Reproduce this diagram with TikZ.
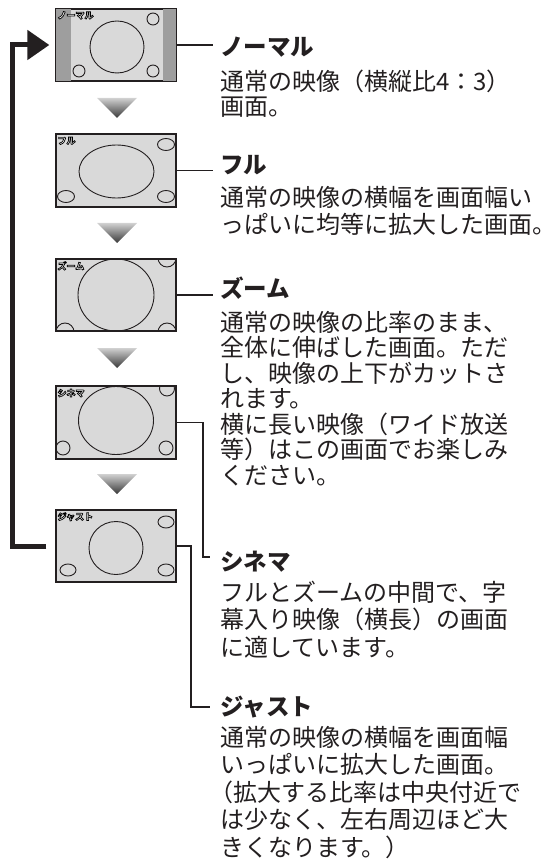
\documentclass[tikz,border=0pt]{standalone}
\usepackage{fontspec}
\newfontfamily\jp{Noto Sans CJK JP}
\usetikzlibrary{arrows.meta,calc}
\definecolor{scr}{HTML}{D9D9D9}
\definecolor{bar}{HTML}{9E9E9E}
\definecolor{ink}{HTML}{231F20}
\newcommand{\outl}[1]{\textcolor{white}{\special{pdf:literal direct 0 G 0.7 w 2 Tr}#1\special{pdf:literal direct 0 Tr}}}
\begin{document}
\begin{tikzpicture}[x=1pt,y=-1pt,
  screen/.style={draw=ink, line width=1.3pt, fill=scr, minimum width=120pt, minimum height=72pt, inner sep=0},
  ttl/.style={anchor=west, inner xsep=7pt, inner ysep=0, font=\jp\bfseries\fontsize{23.5}{26}\selectfont, text=ink},
  body/.style={anchor=base west, inner sep=0, font=\jp\fontsize{24}{26}\selectfont, text=ink},
  conn/.style={draw=ink, line width=1.8pt},
  fb/.style={draw=ink, line width=5pt},
  tri/.style={top color=black!18, bottom color=black!78, draw=none},
  thin/.style={draw=ink, line width=0.9pt},
  tag/.style={anchor=north west, inner sep=0, font=\jp\bfseries\fontsize{9}{9}\selectfont},
  frame/.style={draw=ink, line width=1.3pt}
]
\useasboundingbox (0,0) rectangle (559,866);

% screens
\node[screen] (s1) at (116,45) {};
\node[screen] (s2) at (116,170.5) {};
\node[screen] (s3) at (116,295) {};
\node[screen] (s4) at (116,422.5) {};
\node[screen] (s5) at (116,546) {};

% screen 1: normal
\begin{scope}[shift={(s1.center)}]
  \clip (-60,-36) rectangle (60,36);
  \fill[bar] (-60,-36) rectangle (-45,36);
  \fill[bar] (47,-36) rectangle (60,36);
  \draw[thin] (1,2) circle [x radius=27pt, y radius=26pt];
  \draw[thin] (37,-26) circle [radius=6pt];
  \draw[thin] (-37,26) circle [radius=6pt];
  \draw[thin] (37,26) circle [radius=6pt];
\end{scope}
\draw[frame] (s1.north west) rectangle (s1.south east);
\node[tag] (g1) at ($(s1.north west)+(2,3)$) {\outl{ノーマル}};

% screen 2: full
\begin{scope}[shift={(s2.center)}]
  \clip (-60,-36) rectangle (60,36);
  \draw[thin] (0.5,1) circle [x radius=37.5pt, y radius=26.5pt];
  \draw[thin] (50,-26) circle [x radius=8.5pt, y radius=6pt];
  \draw[thin] (-50,26) circle [x radius=8.5pt, y radius=6pt];
  \draw[thin] (50,26) circle [x radius=8.5pt, y radius=6pt];
\end{scope}
\draw[frame] (s2.north west) rectangle (s2.south east);
\node[tag] (g2) at ($(s2.north west)+(2,3)$) {\outl{フル}};

% screen 3: zoom
\begin{scope}[shift={(s3.center)}]
  \clip (-60,-36) rectangle (60,36);
  \draw[thin] (0,0) circle [x radius=38pt, y radius=36pt];
  \draw[thin] (51,-37) circle [radius=9pt];
  \draw[thin] (-51,37) circle [radius=9pt];
  \draw[thin] (51,37) circle [radius=9pt];
\end{scope}
\draw[frame] (s3.north west) rectangle (s3.south east);
\node[tag] (g3) at ($(s3.north west)+(2,3)$) {\outl{ズーム}};

% screen 4: cinema
\begin{scope}[shift={(s4.center)}]
  \clip (-60,-36) rectangle (60,36);
  \draw[thin] (0,-2) circle [x radius=37.5pt, y radius=34pt];
  \draw[thin] (51,-34) circle [radius=7.5pt];
  \draw[thin] (-53,25.5) circle [radius=7pt];
  \draw[thin] (50,25.5) circle [radius=7pt];
\end{scope}
\draw[frame] (s4.north west) rectangle (s4.south east);
\node[tag] (g4) at ($(s4.north west)+(2,3)$) {\outl{シネマ}};

% screen 5: just
\begin{scope}[shift={(s5.center)}]
  \clip (-60,-36) rectangle (60,36);
  \draw[thin] (0,2) circle [x radius=27pt, y radius=26.5pt];
  \draw[thin] (50,-24) circle [x radius=8pt, y radius=6pt];
  \draw[thin] (-48,24) circle [x radius=8pt, y radius=6pt];
  \draw[thin] (50,24) circle [x radius=8pt, y radius=6pt];
\end{scope}
\draw[frame] (s5.north west) rectangle (s5.south east);
\node[tag] (g5) at ($(s5.north west)+(2,3)$) {\outl{ジャスト}};

% down triangles
\shade[tri] (97,98) -- (137,98) -- (117,118) -- cycle;
\shade[tri] (97,223) -- (137,223) -- (117,243) -- cycle;
\shade[tri] (97,348) -- (137,348) -- (117,368) -- cycle;
\shade[tri] (97,474) -- (137,474) -- (117,494) -- cycle;

% feedback arrow
\draw[fb, -{Triangle[length=22pt,width=29pt]}] ([xshift=-9pt]s5.west) -| ([xshift=-43pt]s1.west) -- ([xshift=-6pt]s1.west);

% titles
\node[ttl] (t1) at (213,47) {ノーマル};
\node[ttl] (t2) at (213,165) {フル};
\node[ttl] (t3) at (213,288) {ズーム};
\node[ttl] (t4) at (213,562) {シネマ};
\node[ttl] (t5) at (213,707) {ジャスト};

% connectors
\draw[conn] (s1.east) -- (s1.east -| t1.west);
\draw[conn] (s2.east) -- (s2.east -| t2.west);
\draw[conn] (s3.east) -- (s3.east -| t3.west);
\draw[conn] (s4.east) -- ++(26,0) |- ([yshift=5pt,xshift=-3pt]t4.west);
\draw[conn] (s5.east) -- ++(14,0) |- ([xshift=-3pt]t5.west);

% bodies
\foreach \txt [count=\i] in {通常の映像（横縦比4：3）,画面。}
  \node[body] (a\i) at (220,{91+(\i-1)*25}) {\txt};
\foreach \txt [count=\i] in {通常の映像の横幅を画面幅い,っぱいに均等に拡大した画面。}
  \node[body] (b\i) at (220,{207+(\i-1)*27}) {\txt};
\foreach \txt [count=\i] in {通常の映像の比率のまま、,全体に伸ばした画面。ただ,し、映像の上下がカットさ,れます。,横に長い映像（ワイド放送,等）はこの画面でお楽しみ,ください。}
  \node[body] (c\i) at (220,{331+(\i-1)*25.5}) {\txt};
\foreach \txt [count=\i] in {フルとズームの中間で、字,幕入り映像（横長）の画面,に適しています。}
  \node[body] (d\i) at (220,{601+(\i-1)*27.5}) {\txt};
\foreach \txt [count=\i] in {通常の映像の横幅を画面幅,いっぱいに拡大した画面。,\hspace{-11pt}（拡大する比率は中央付近で,は少なく、左右周辺ほど大,きくなります。）}
  \node[body] (e\i) at (220,{746+(\i-1)*27.5}) {\txt};
\end{tikzpicture}
\end{document}
